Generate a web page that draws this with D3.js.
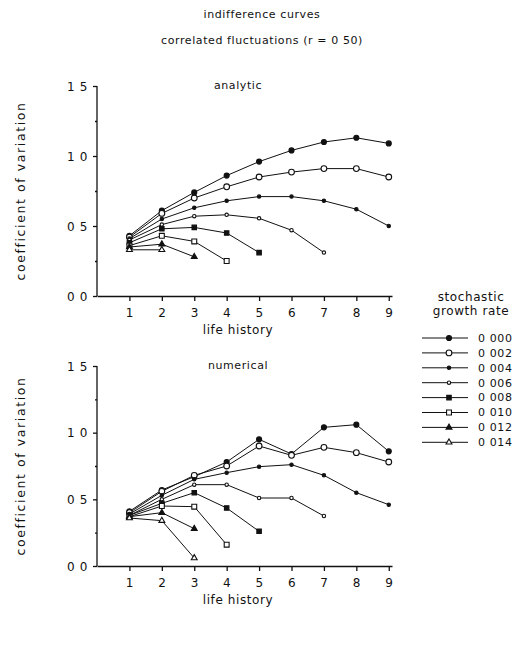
<!DOCTYPE html>
<html>
<head>
<meta charset="utf-8">
<script src="https://cdn.jsdelivr.net/npm/d3@7"></script>
<style>
  body { margin: 0; background: #fff; }
  text { font-family: "DejaVu Sans", sans-serif; font-size: 11px; fill: #111; letter-spacing: 0.6px; }
  .axis path, .axis line { stroke: #111; stroke-width: 1.3; }
</style>
</head>
<body>
<svg width="524" height="646"></svg>
<script>
var lifeHistory = [1, 2, 3, 4, 5, 6, 7, 8, 9];
var growthRates = ["0 000", "0 002", "0 004", "0 006", "0 008", "0 010", "0 012", "0 014"];
var cvTicks = [0, 0.5, 1, 1.5];
var cvTickLabels = ["0 0", "0 5", "1 0", "1 5"];

// analytic coefficient of variation, one row per growth rate
var analyticCV = [
  [0.43, 0.61, 0.74, 0.86, 0.96, 1.04, 1.10, 1.13, 1.09],
  [0.42, 0.59, 0.70, 0.78, 0.85, 0.885, 0.91, 0.91, 0.85],
  [0.41, 0.55, 0.63, 0.68, 0.71, 0.71, 0.68, 0.62, 0.50],
  [0.40, 0.51, 0.57, 0.58, 0.555, 0.47, 0.31],
  [0.38, 0.48, 0.49, 0.45, 0.31],
  [0.36, 0.43, 0.39, 0.25],
  [0.35, 0.37, 0.28],
  [0.33, 0.33]
];

// numerical coefficient of variation
var numericalCV = [
  [0.41, 0.57, 0.67, 0.78, 0.95, 0.84, 1.04, 1.06, 0.86],
  [0.40, 0.56, 0.68, 0.75, 0.90, 0.83, 0.89, 0.85, 0.78],
  [0.39, 0.53, 0.65, 0.70, 0.745, 0.76, 0.68, 0.55, 0.46],
  [0.38, 0.50, 0.61, 0.61, 0.51, 0.51, 0.375],
  [0.38, 0.47, 0.55, 0.435, 0.26],
  [0.37, 0.45, 0.445, 0.16],
  [0.37, 0.40, 0.28],
  [0.36, 0.34, 0.06]
];

// marker per series: shape and filled or open
var markers = [
  {shape: d3.symbolCircle, size: 20, fill: true},
  {shape: d3.symbolCircle, size: 26, fill: false},
  {shape: d3.symbolCircle, size: 9, fill: true},
  {shape: d3.symbolCircle, size: 9, fill: false},
  {shape: d3.symbolSquare, size: 20, fill: true},
  {shape: d3.symbolSquare, size: 24, fill: false},
  {shape: d3.symbolTriangle, size: 15, fill: true},
  {shape: d3.symbolTriangle, size: 15, fill: false}
];

var svg = d3.select("svg");

svg.append("text").attr("x", 262).attr("y", 18).attr("text-anchor", "middle").text("indifference curves");
svg.append("text").attr("x", 262).attr("y", 44).attr("text-anchor", "middle").text("correlated fluctuations (r = 0 50)");

var x = d3.scaleLinear().domain([0, 9.1]).range([97, 392]);

function panel(title, data, top, bottom) {
  var y = d3.scaleLinear().domain([0, 1.5]).range([bottom, top]);
  var g = svg.append("g");

  g.append("g").attr("class", "axis")
    .attr("transform", "translate(97,0)")
    .call(d3.axisLeft(y).tickValues(d3.range(0, 1.51, 0.25)).tickSize(3)
      .tickFormat(function(d) { var i = cvTicks.indexOf(d); return i < 0 ? "" : cvTickLabels[i]; }))
    .call(function(a) {
      a.selectAll(".tick line").attr("x2", function(d) { return cvTicks.indexOf(d) < 0 ? -2 : -4; });
      a.selectAll(".tick text").attr("x", -9).attr("dy", "0.35em");
      a.select(".domain").attr("d", "M0," + top + "V" + bottom);
    });

  g.append("g").attr("class", "axis")
    .attr("transform", "translate(0," + bottom + ")")
    .call(d3.axisBottom(x).tickValues(lifeHistory).tickSize(5).tickSizeOuter(0).tickFormat(d3.format("d")))
    .call(function(a) {
      a.selectAll(".tick text").attr("y", 12);
    });

  g.selectAll("text").filter(function() { return this.parentNode.classList.contains("tick"); })
    .style("font-family", "DejaVu Sans").style("font-size", "12px").style("fill", "#111");

  g.append("text").attr("x", 238).attr("y", top + 3).attr("text-anchor", "middle").text(title);
  g.append("text").attr("x", 238).attr("y", bottom + 38).attr("text-anchor", "middle").style("font-size", "12px").text("life history");
  g.append("text")
    .attr("transform", "translate(25," + ((top + bottom) / 2) + ") rotate(-90)")
    .attr("text-anchor", "middle").style("font-size", "12.5px").style("letter-spacing", "1.6px")
    .text("coefficient of variation");

  var line = d3.line().x(function(d, i) { return x(lifeHistory[i]); }).y(function(d) { return y(d); });

  var series = g.selectAll(".series").data(data).enter().append("g").attr("class", "series");
  series.append("path")
    .attr("d", function(d) { return line(d); })
    .attr("fill", "none").attr("stroke", "#111").attr("stroke-width", 1);

  series.each(function(d, k) {
    var m = markers[k];
    d3.select(this).selectAll("path.pt").data(d).enter().append("path")
      .attr("class", "pt")
      .attr("transform", function(v, i) { return "translate(" + x(lifeHistory[i]) + "," + y(v) + ")"; })
      .attr("d", d3.symbol().type(m.shape).size(m.size))
      .attr("fill", m.fill ? "#111" : "#fff")
      .attr("stroke", "#111").attr("stroke-width", 1.1);
  });
}

panel("analytic", analyticCV, 86, 296);
panel("numerical", numericalCV, 366, 566);

// legend
var legend = svg.append("g");
legend.append("text").attr("x", 471).attr("y", 301).attr("text-anchor", "middle").style("font-size", "12px").text("stochastic");
legend.append("text").attr("x", 471).attr("y", 315).attr("text-anchor", "middle").style("font-size", "12px").text("growth rate");

var rows = legend.selectAll(".row").data(growthRates).enter().append("g")
  .attr("transform", function(d, i) { return "translate(0," + (338 + i * 14.9) + ")"; });
rows.append("line").attr("x1", 422).attr("x2", 468).attr("stroke", "#111").attr("stroke-width", 1);
rows.append("path")
  .attr("transform", "translate(449,0)")
  .attr("d", function(d, i) { return d3.symbol().type(markers[i].shape).size(markers[i].size)(); })
  .attr("fill", function(d, i) { return markers[i].fill ? "#111" : "#fff"; })
  .attr("stroke", "#111").attr("stroke-width", 1.1);
rows.append("text").attr("x", 478).attr("dy", "0.35em").text(function(d) { return d; });
</script>
</body>
</html>
